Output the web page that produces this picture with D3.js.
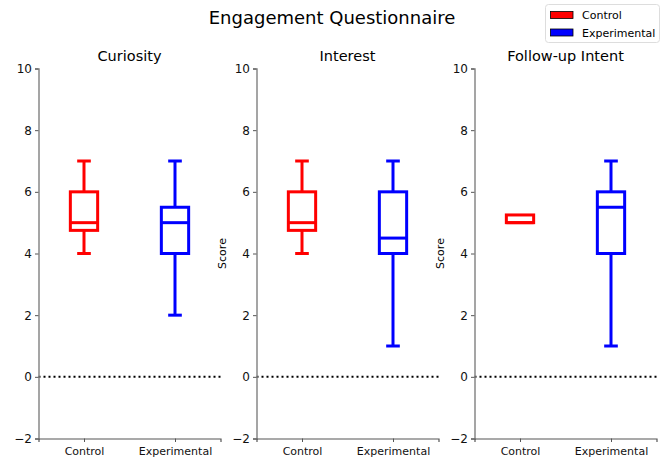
<!DOCTYPE html>
<html>
<head>
<meta charset="utf-8">
<script src="https://cdn.jsdelivr.net/npm/d3@7"></script>
<style>
  body { margin: 0; background: #fff; }
  text { font-family: "DejaVu Sans", sans-serif; }
</style>
</head>
<body>
<div class="chart"></div>
<script>
const panels = ["Curiosity", "Interest", "Follow-up Intent"];
const groups = ["Control", "Experimental"];
const colors = ["#ff0000", "#0000ff"];
// per panel, per group: [whiskerLow, q1, median, q3, whiskerHigh]
const curiosityStats = [[4, 4.75, 5, 6, 7], [2, 4, 5, 5.5, 7]];
const interestStats = [[4, 4.75, 5, 6, 7], [1, 4, 4.5, 6, 7]];
const followupStats = [[5, 5, 5, 5.25, 5.25], [1, 4, 5.5, 6, 7]];
const yTicks = [-2, 0, 2, 4, 6, 8, 10];
const allStats = [curiosityStats, interestStats, followupStats];

const w = 664, h = 459;
const svg = d3.select('.chart').append('svg')
  .attr('width', w).attr('height', h);

const panelLeft = [38.5, 256.5, 474.5];
const panelW = 182;
const plotTop = 68.5, plotBottom = 438.5;

const yScale = d3.scaleLinear().domain([-2, 10]).range([plotBottom, plotTop]);

svg.append('text')
  .attr('x', 332).attr('y', 24)
  .attr('text-anchor', 'middle')
  .style('font-size', '18px')
  .text('Engagement Questionnaire');

allStats.forEach((stats, p) => {
  const g = svg.append('g').attr('transform', `translate(${panelLeft[p]},0)`);
  const xScale = d3.scaleLinear().domain([0.5, 2.5]).range([0, panelW]);

  // zero line
  g.append('line')
    .attr('x1', 0).attr('x2', panelW)
    .attr('y1', yScale(0)).attr('y2', yScale(0))
    .attr('stroke', '#000').attr('stroke-width', 2)
    .attr('stroke-dasharray', '2,3');

  // y axis
  const yAxis = g.append('g')
    .call(d3.axisLeft(yScale).tickValues(yTicks).tickSize(3.5).tickPadding(3)
      .tickFormat(d => d < 0 ? '\u2212' + Math.abs(d) : d));
  yAxis.select('.domain').attr('stroke', '#888').attr('stroke-width', 1.5);
  yAxis.selectAll('.tick line').attr('stroke', '#555');
  yAxis.selectAll('.tick text').style('font-size', '12px').attr('fill', '#111');

  // x axis
  const xAxis = g.append('g')
    .attr('transform', `translate(0,${plotBottom})`)
    .call(d3.axisBottom(xScale).tickValues([1, 2]).tickSize(3.5).tickPadding(5)
      .tickFormat((d, i) => groups[i]));
  xAxis.select('.domain').attr('stroke', '#555').attr('stroke-width', 1.2);
  xAxis.selectAll('.tick line').attr('stroke', '#555');
  xAxis.selectAll('.tick text').style('font-size', '11px').attr('fill', '#111');

  // title
  g.append('text')
    .attr('x', panelW / 2).attr('y', 61)
    .attr('text-anchor', 'middle')
    .style('font-size', '14.5px')
    .text(panels[p]);

  if (p > 0) {
    g.append('text')
      .attr('transform', `translate(-31,${yScale(4)}) rotate(-90)`)
      .attr('text-anchor', 'middle')
      .style('font-size', '11px')
      .text('Score');
  }

  // boxes
  const boxW = xScale(1.15) - xScale(0.85);
  const capW = xScale(1.075) - xScale(0.925);
  stats.forEach((s, i) => {
    const cx = xScale(i + 1);
    const c = colors[i];
    const [lo, q1, med, q3, hi] = s;
    const bg = g.append('g')
      .attr('stroke', c).attr('stroke-width', 3).attr('fill', 'none');
    if (lo < q1) {
      bg.append('line').attr('x1', cx).attr('x2', cx)
        .attr('y1', yScale(q1)).attr('y2', yScale(lo));
      bg.append('line').attr('x1', cx - capW / 2).attr('x2', cx + capW / 2)
        .attr('y1', yScale(lo)).attr('y2', yScale(lo));
    }
    if (hi > q3) {
      bg.append('line').attr('x1', cx).attr('x2', cx)
        .attr('y1', yScale(q3)).attr('y2', yScale(hi));
      bg.append('line').attr('x1', cx - capW / 2).attr('x2', cx + capW / 2)
        .attr('y1', yScale(hi)).attr('y2', yScale(hi));
    }
    bg.append('rect')
      .attr('x', cx - boxW / 2).attr('width', boxW)
      .attr('y', yScale(q3)).attr('height', yScale(q1) - yScale(q3));
    bg.append('line').attr('x1', cx - boxW / 2).attr('x2', cx + boxW / 2)
      .attr('y1', yScale(med)).attr('y2', yScale(med));
  });
});

// legend
const legend = svg.append('g').attr('transform', 'translate(545.5,4.5)');
legend.append('rect')
  .attr('width', 114).attr('height', 38).attr('rx', 3)
  .attr('fill', '#fff').attr('stroke', '#ddd');
groups.forEach((gname, i) => {
  const row = legend.append('g').attr('transform', `translate(0,${7 + i * 17.5})`);
  row.append('rect')
    .attr('x', 5).attr('y', 0).attr('width', 22.5).attr('height', 7)
    .attr('fill', colors[i]).attr('stroke', '#000').attr('stroke-width', 0.8);
  row.append('text')
    .attr('x', 36.5).attr('y', 7.5)
    .style('font-size', '11px')
    .text(gname);
});
</script>
</body>
</html>
